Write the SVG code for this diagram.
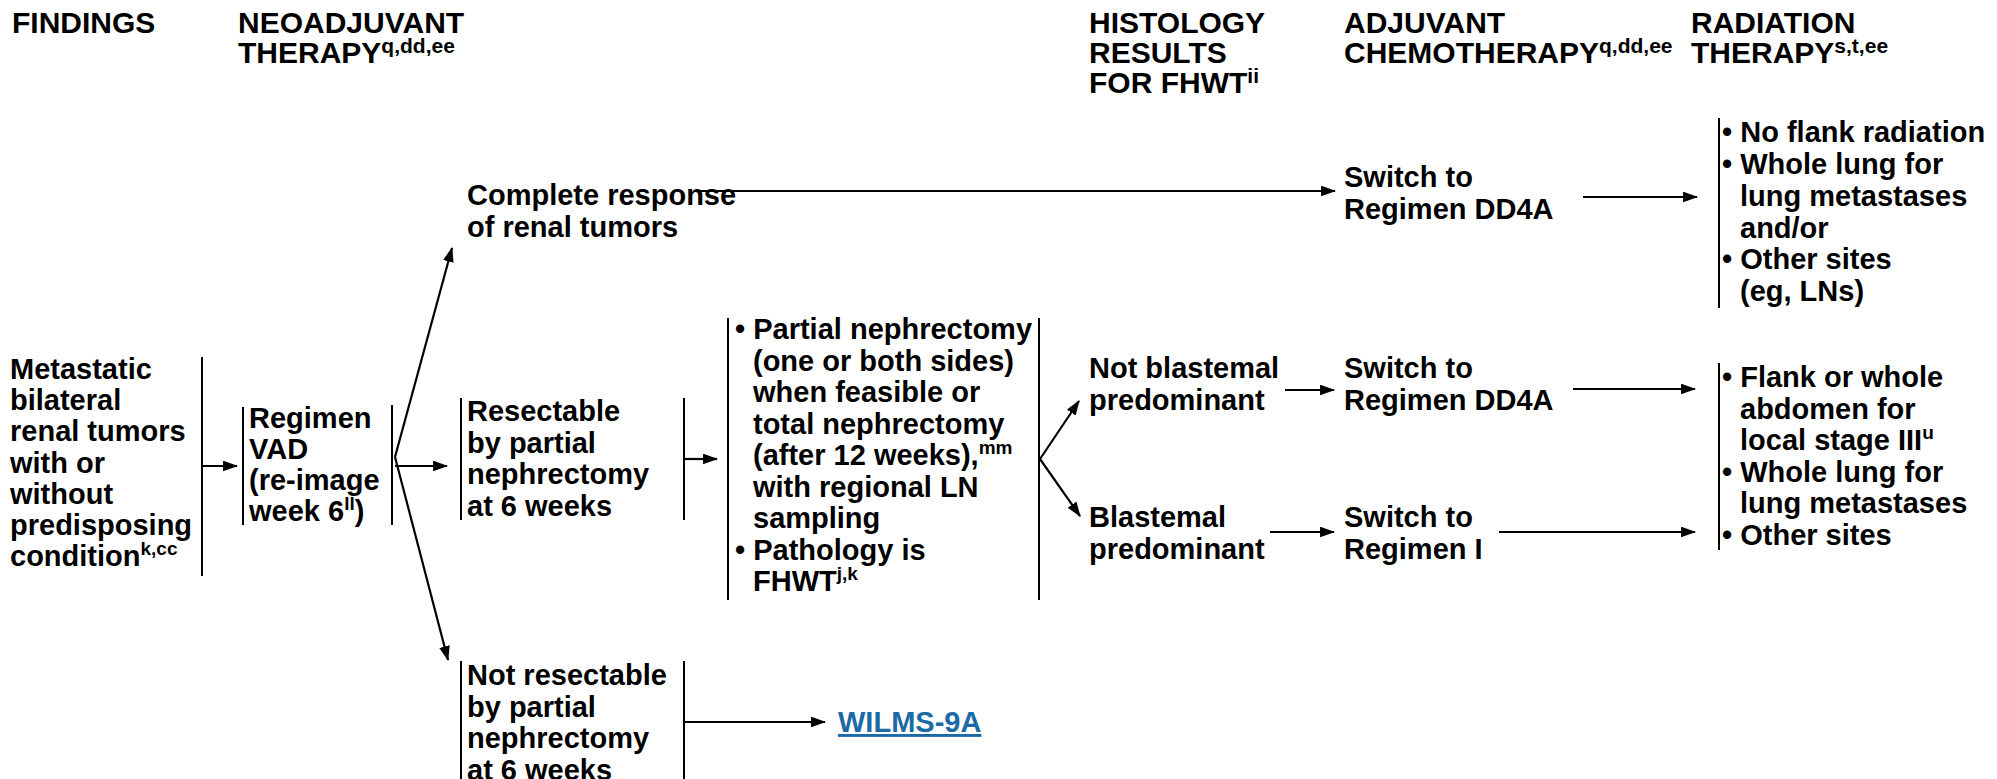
<svg xmlns="http://www.w3.org/2000/svg" width="1997" height="779" viewBox="0 0 1997 779">
<defs>
<marker id="ah" viewBox="0 0 14 10" refX="13" refY="5" markerWidth="15" markerHeight="11" markerUnits="userSpaceOnUse" orient="auto"><path d="M0,0 L14,5 L0,10 z" fill="#000"/></marker>
</defs>
<style>
text{font-family:"Liberation Sans",Arial,sans-serif;font-weight:bold;font-size:29px;fill:#000}
.hd{font-size:30px}
.sup{font-size:19px}
.hsup{font-size:21px}
.br{stroke:#000;stroke-width:2;fill:none}
.cn{stroke:#000;stroke-width:2.2;fill:none;marker-end:url(#ah)}
.link{fill:#1b6aa6;text-decoration:underline}
</style>
<rect width="1997" height="779" fill="#fff"/>

<g id="headers">
<text class="hd" x="12" y="33">FINDINGS</text>
<text class="hd"><tspan x="238" y="33">NEOADJUVANT</tspan><tspan x="238" y="63">THERAPY</tspan><tspan class="hsup" dy="-10">q,dd,ee</tspan></text>
<text class="hd"><tspan x="1089" y="33">HISTOLOGY</tspan><tspan x="1089" y="63">RESULTS</tspan><tspan x="1089" y="93">FOR FHWT</tspan><tspan class="hsup" dy="-10">ii</tspan></text>
<text class="hd"><tspan x="1344" y="33">ADJUVANT</tspan><tspan x="1344" y="63">CHEMOTHERAPY</tspan><tspan class="hsup" dy="-10">q,dd,ee</tspan></text>
<text class="hd"><tspan x="1691" y="33">RADIATION</tspan><tspan x="1691" y="63">THERAPY</tspan><tspan class="hsup" dy="-10">s,t,ee</tspan></text>
</g>

<g id="findings">
<text><tspan x="10" y="379">Metastatic</tspan><tspan x="10" y="410.2">bilateral</tspan><tspan x="10" y="441.4">renal tumors</tspan><tspan x="10" y="472.6">with or</tspan><tspan x="10" y="503.8">without</tspan><tspan x="10" y="535">predisposing</tspan><tspan x="10" y="566.2">condition</tspan><tspan class="sup" dy="-11">k,cc</tspan></text>
<line class="br" x1="202" y1="357" x2="202" y2="576"/>
</g>

<g id="regimen-vad">
<line class="br" x1="243" y1="407" x2="243" y2="525"/>
<text><tspan x="249" y="428">Regimen</tspan><tspan x="249" y="459">VAD</tspan><tspan x="249" y="490">(re-image</tspan><tspan x="249" y="521">week 6</tspan><tspan class="sup" dy="-11">ll</tspan><tspan dy="11">)</tspan></text>
<line class="br" x1="392" y1="405" x2="392" y2="525"/>
</g>

<g id="complete-response">
<text><tspan x="467" y="205">Complete response</tspan><tspan x="467" y="237">of renal tumors</tspan></text>
</g>

<g id="resectable">
<line class="br" x1="461" y1="398" x2="461" y2="520"/>
<text><tspan x="467" y="421">Resectable</tspan><tspan x="467" y="452.5">by partial</tspan><tspan x="467" y="484">nephrectomy</tspan><tspan x="467" y="515.5">at 6 weeks</tspan></text>
<line class="br" x1="684" y1="398" x2="684" y2="520"/>
</g>

<g id="not-resectable">
<line class="br" x1="461" y1="661" x2="461" y2="779"/>
<text><tspan x="467" y="685">Not resectable</tspan><tspan x="467" y="716.5">by partial</tspan><tspan x="467" y="748">nephrectomy</tspan><tspan x="467" y="779.5">at 6 weeks</tspan></text>
<line class="br" x1="684" y1="661" x2="684" y2="779"/>
</g>

<g id="wilms-9a">
<text class="link" x="838" y="732">WILMS-9A</text>
</g>

<g id="partial-nephrectomy">
<line class="br" x1="728" y1="318" x2="728" y2="600"/>
<text><tspan x="735" y="339">• Partial nephrectomy</tspan><tspan x="753" y="370.5">(one or both sides)</tspan><tspan x="753" y="402">when feasible or</tspan><tspan x="753" y="433.5">total nephrectomy</tspan><tspan x="753" y="465">(after 12 weeks),</tspan><tspan class="sup" dy="-11">mm</tspan><tspan x="753" y="496.5">with regional LN</tspan><tspan x="753" y="528">sampling</tspan><tspan x="735" y="559.5">• Pathology is</tspan><tspan x="753" y="591">FHWT</tspan><tspan class="sup" dy="-11">j,k</tspan></text>
<line class="br" x1="1039" y1="318" x2="1039" y2="600"/>
</g>

<g id="not-blastemal">
<text><tspan x="1089" y="378">Not blastemal</tspan><tspan x="1089" y="410">predominant</tspan></text>
</g>

<g id="blastemal">
<text><tspan x="1089" y="527">Blastemal</tspan><tspan x="1089" y="559">predominant</tspan></text>
</g>

<g id="switch-dd4a-top">
<text><tspan x="1344" y="187">Switch to</tspan><tspan x="1344" y="219">Regimen DD4A</tspan></text>
</g>

<g id="switch-dd4a-mid">
<text><tspan x="1344" y="378">Switch to</tspan><tspan x="1344" y="410">Regimen DD4A</tspan></text>
</g>

<g id="switch-regimen-i">
<text><tspan x="1344" y="527">Switch to</tspan><tspan x="1344" y="559">Regimen I</tspan></text>
</g>

<g id="radiation-top">
<line class="br" x1="1719" y1="118" x2="1719" y2="308"/>
<text><tspan x="1722" y="142">• No flank radiation</tspan><tspan x="1722" y="174">• Whole lung for</tspan><tspan x="1740" y="206">lung metastases</tspan><tspan x="1740" y="237.5">and/or</tspan><tspan x="1722" y="269">• Other sites</tspan><tspan x="1740" y="301">(eg, LNs)</tspan></text>
</g>

<g id="radiation-mid">
<line class="br" x1="1719" y1="363" x2="1719" y2="550"/>
<text><tspan x="1722" y="387">• Flank or whole</tspan><tspan x="1740" y="418.6">abdomen for</tspan><tspan x="1740" y="450.2">local stage III</tspan><tspan class="sup" dy="-11">u</tspan><tspan x="1722" y="481.8">• Whole lung for</tspan><tspan x="1740" y="513.4">lung metastases</tspan><tspan x="1722" y="545">• Other sites</tspan></text>
</g>

<g id="connectors">
<line class="cn" x1="203" y1="466" x2="237" y2="466"/>
<line class="cn" x1="395" y1="457" x2="452" y2="248"/>
<line class="cn" x1="395" y1="466" x2="447" y2="466"/>
<line class="cn" x1="395" y1="457" x2="448" y2="660"/>
<line class="cn" x1="697" y1="191" x2="1335" y2="191"/>
<line class="cn" x1="1583" y1="197" x2="1697" y2="197"/>
<line class="cn" x1="685" y1="459" x2="717" y2="459"/>
<line class="cn" x1="1040" y1="459" x2="1079" y2="401"/>
<line class="cn" x1="1040" y1="459" x2="1080" y2="516"/>
<line class="cn" x1="1285" y1="390" x2="1334" y2="390"/>
<line class="cn" x1="1270" y1="532" x2="1334" y2="532"/>
<line class="cn" x1="1573" y1="389" x2="1695" y2="389"/>
<line class="cn" x1="1499" y1="532" x2="1695" y2="532"/>
<line class="cn" x1="685" y1="722" x2="825" y2="722"/>
</g>
</svg>
